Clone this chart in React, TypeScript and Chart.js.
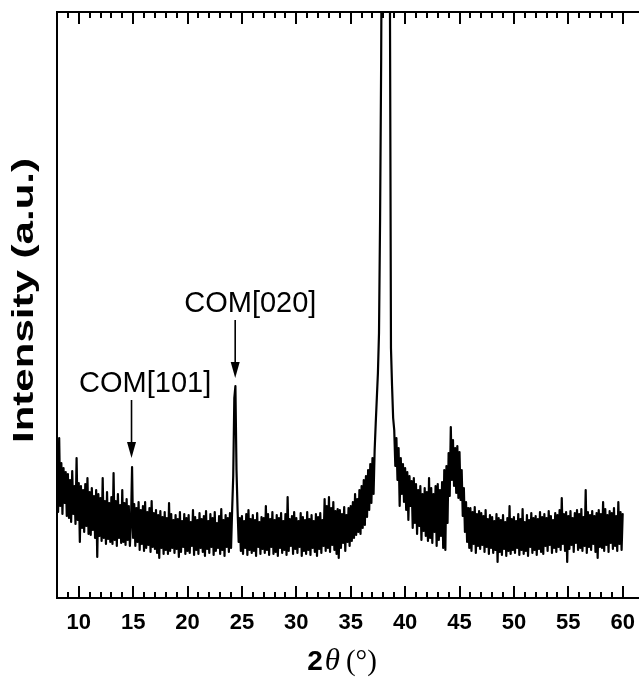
import React, { useEffect, useRef } from "react";
import { Chart, registerables } from "chart.js";

Chart.register(...registerables);

// ---- data -------------------------------------------------------------
const ANGLE_START = 8; // first 2θ sample (°)
const ANGLE_STEP = 0.1; // sampling step (°)
const X_MIN = 8;
const X_MAX = 61.5;
const Y_MIN = 0;
const Y_MAX = 586;
const X_TICK_LABELS = [10, 15, 20, 25, 30, 35, 40, 45, 50, 55, 60];

// intensity (a.u.), one row per degree, 2θ = 8.0 … 60.0
const intensity: number[] = [
  128, 86, 160, 92, 135, 84, 130, 95, 126, 82, // 8
  124, 80, 118, 76, 127, 84, 112, 74, 140, 78, // 9
  115, 56, 112, 70, 108, 66, 114, 72, 120, 64, // 10
  106, 63, 110, 68, 102, 60, 108, 41, 104, 62, // 11
  100, 57, 120, 60, 97, 54, 106, 59, 95, 56, // 12
  101, 54, 125, 58, 97, 52, 104, 60, 93, 55, // 13
  108, 56, 95, 53, 99, 58, 92, 52, 74, 131, // 14
  60, 94, 52, 90, 56, 96, 48, 88, 54, 92, // 15
  47, 96, 50, 86, 53, 90, 46, 97, 51, 85, // 16
  49, 88, 45, 83, 40, 87, 50, 81, 44, 86, // 17
  48, 80, 44, 95, 47, 84, 50, 78, 45, 83, // 18
  49, 79, 41, 86, 46, 77, 51, 84, 44, 80, // 19
  47, 83, 45, 76, 52, 88, 43, 81, 48, 78, // 20
  44, 85, 50, 79, 46, 82, 42, 87, 49, 77, // 21
  45, 84, 51, 80, 43, 86, 47, 75, 50, 82, // 22
  44, 89, 48, 78, 42, 83, 51, 80, 46, 85, // 23
  50, 88, 122, 200, 212, 128, 88, 56, 80, 47, // 24
  82, 44, 77, 50, 84, 43, 88, 48, 79, 45, // 25
  83, 47, 78, 42, 85, 51, 76, 44, 81, 49, // 26
  80, 45, 92, 48, 84, 43, 79, 51, 86, 44, // 27
  78, 46, 83, 42, 80, 50, 85, 45, 77, 48, // 28
  84, 43, 101, 47, 79, 52, 82, 44, 86, 49, // 29
  80, 45, 77, 51, 85, 42, 81, 47, 78, 44, // 30
  86, 48, 79, 43, 83, 50, 77, 46, 84, 42, // 31
  81, 49, 85, 45, 78, 52, 99, 47, 92, 50, // 32
  101, 46, 90, 53, 96, 48, 87, 44, 89, 40, // 33
  88, 50, 84, 55, 91, 47, 83, 56, 90, 52, // 34
  92, 57, 96, 60, 104, 63, 99, 66, 108, 64, // 35
  112, 70, 118, 73, 122, 81, 128, 88, 134, 95, // 36
  140, 104, 148, 175, 200, 225, 265, 380, 540, 800, // 37
  1300, 2000, 2600, 2900, 2500, 1600, 620, 250, 212, 180, // 38
  168, 132, 160, 118, 150, 92, 140, 104, 134, 96, // 39
  130, 88, 126, 78, 122, 92, 117, 70, 120, 75, // 40
  114, 64, 108, 72, 112, 58, 104, 67, 110, 62, // 41
  106, 57, 120, 60, 110, 55, 104, 66, 112, 52, // 42
  114, 58, 108, 62, 116, 50, 128, 48, 132, 75, // 43
  145, 102, 171, 118, 158, 112, 150, 105, 152, 100, // 44
  146, 98, 128, 82, 110, 66, 96, 56, 90, 50, // 45
  90, 47, 86, 54, 91, 45, 84, 52, 87, 49, // 46
  85, 53, 82, 46, 88, 51, 79, 44, 83, 50, // 47
  81, 45, 77, 48, 84, 36, 80, 46, 78, 43, // 48
  83, 49, 76, 42, 80, 47, 92, 44, 79, 48, // 49
  81, 45, 77, 50, 84, 43, 79, 48, 89, 44, // 50
  76, 47, 83, 42, 78, 51, 85, 45, 80, 48, // 51
  82, 43, 79, 49, 86, 46, 81, 44, 84, 52, // 52
  80, 47, 87, 53, 82, 45, 78, 50, 85, 46, // 53
  83, 51, 88, 48, 100, 54, 84, 47, 86, 36, // 54
  82, 49, 87, 53, 80, 46, 85, 55, 88, 48, // 55
  84, 50, 89, 47, 81, 52, 108, 45, 86, 51, // 56
  83, 48, 87, 54, 82, 46, 85, 40, 88, 51, // 57
  84, 50, 96, 47, 89, 53, 83, 46, 87, 55, // 58
  85, 49, 90, 52, 82, 47, 96, 54, 86, 48, // 59
  84, // 60
];

// peak annotations
const peakLabels = ["COM[101]", "COM[020]"];
const peakAngles = [14.85, 24.38]; // arrow position (2θ)
const arrowTail = [198, 278]; // arrow start (a.u.)
const arrowTip = [140, 220]; // arrow tip (a.u.)
const labelAngles = [16.1, 25.77]; // label centre (2θ)
const labelBaseline = [206, 286]; // label baseline (a.u.)

// ---- drawing ----------------------------------------------------------
const SANS = '"Liberation Sans", Arial, Helvetica, sans-serif';
const SERIF = '"Liberation Serif", "Times New Roman", serif';

const decorPlugin = {
  id: "decor",
  afterDatasetsDraw(chart: any) {
    const { ctx, chartArea: a, scales } = chart;
    const xs = scales.x;
    const ys = scales.y;
    ctx.save();
    ctx.strokeStyle = "#000";
    ctx.fillStyle = "#000";

    // inward tick marks on bottom and top axes
    ctx.lineWidth = 2;
    ctx.beginPath();
    for (const t of xs.ticks) {
      const v = t.value;
      if (Math.abs(v - Math.round(v)) > 1e-6) continue;
      const px = Math.round(xs.getPixelForValue(v));
      const len = Math.round(v) % 5 === 0 ? 12 : 6;
      ctx.moveTo(px, a.bottom);
      ctx.lineTo(px, a.bottom - len);
      ctx.moveTo(px, a.top);
      ctx.lineTo(px, a.top + len);
    }
    ctx.stroke();

    // frame (left, top, bottom)
    ctx.beginPath();
    ctx.moveTo(a.right + 2, a.top);
    ctx.lineTo(a.left, a.top);
    ctx.lineTo(a.left, a.bottom);
    ctx.lineTo(a.right + 2, a.bottom);
    ctx.stroke();

    // arrows + labels
    for (let i = 0; i < peakLabels.length; i++) {
      const px = xs.getPixelForValue(peakAngles[i]);
      const yT = ys.getPixelForValue(arrowTail[i]);
      const yH = ys.getPixelForValue(arrowTip[i]);
      const head = 16;
      ctx.lineWidth = 1.6;
      ctx.beginPath();
      ctx.moveTo(px, yT);
      ctx.lineTo(px, yH - head + 2);
      ctx.stroke();
      ctx.beginPath();
      ctx.moveTo(px - 4.5, yH - head);
      ctx.lineTo(px + 4.5, yH - head);
      ctx.lineTo(px, yH);
      ctx.closePath();
      ctx.fill();

      ctx.font = `29px ${SANS}`;
      ctx.textAlign = "center";
      ctx.textBaseline = "alphabetic";
      ctx.fillText(
        peakLabels[i],
        xs.getPixelForValue(labelAngles[i]),
        ys.getPixelForValue(labelBaseline[i])
      );
    }
    ctx.restore();
  },
  afterDraw(chart: any) {
    const { ctx } = chart;
    ctx.save();
    ctx.fillStyle = "#000";
    ctx.textBaseline = "alphabetic";
    ctx.textAlign = "left";

    // x-axis title: 2θ(°)
    const parts = [
      { t: "2", f: `bold 28px ${SANS}`, gap: 2 },
      { t: "\u03B8", f: `italic 31px ${SERIF}`, gap: 6 },
      { t: "(\u00B0)", f: `29px ${SERIF}`, gap: 0 },
    ];
    let total = 0;
    const widths = parts.map((p) => {
      ctx.font = p.f;
      const w = ctx.measureText(p.t).width;
      total += w + p.gap;
      return w;
    });
    let x = 342 - total / 2;
    const baseY = 670;
    parts.forEach((p, i) => {
      ctx.font = p.f;
      ctx.fillText(p.t, x, baseY);
      x += widths[i] + p.gap;
    });

    // y-axis title (rotated)
    const yt = "Intensity (a.u.)";
    ctx.font = `bold 29px ${SANS}`;
    const w = ctx.measureText(yt).width;
    ctx.translate(33, 300.5);
    ctx.rotate(-Math.PI / 2);
    ctx.scale(285 / w, 1);
    ctx.textAlign = "center";
    ctx.fillText(yt, 0, 0);
    ctx.restore();
  },
};

export default function App() {
  const canvasRef = useRef<HTMLCanvasElement | null>(null);

  useEffect(() => {
    const canvas = canvasRef.current;
    if (!canvas) return;
    const points = intensity.map((y, i) => ({
      x: +(ANGLE_START + i * ANGLE_STEP).toFixed(2),
      y,
    }));
    const chart = new Chart(canvas, {
      type: "line",
      data: {
        datasets: [
          {
            data: points,
            borderColor: "#000",
            borderWidth: 2.2,
            borderJoinStyle: "round",
            borderCapStyle: "round",
            pointRadius: 0,
            tension: 0,
            fill: false,
          },
        ],
      },
      options: {
        responsive: false,
        animation: false,
        devicePixelRatio: 1,
        parsing: false as any,
        layout: { padding: { left: 57, top: 12, right: 0, bottom: 0 } },
        plugins: {
          legend: { display: false },
          tooltip: { enabled: false },
          title: { display: false },
        },
        scales: {
          x: {
            type: "linear",
            min: X_MIN,
            max: X_MAX,
            grid: { display: false, drawTicks: false },
            border: { display: false },
            ticks: {
              stepSize: 1,
              autoSkip: false,
              maxRotation: 0,
              padding: 12,
              color: "#000",
              font: { family: SANS, size: 22, weight: "bold" },
              callback: (v: any) =>
                X_TICK_LABELS.includes(Number(v)) ? String(v) : "",
            },
            afterFit: (scale: any) => {
              scale.height = 80;
              scale.paddingLeft = 0;
              scale.paddingRight = 0;
            },
          },
          y: {
            type: "linear",
            display: false,
            min: Y_MIN,
            max: Y_MAX,
          },
        },
      },
      plugins: [decorPlugin],
    } as any);
    return () => chart.destroy();
  }, []);

  return (
    <div
      style={{
        position: "fixed",
        left: 0,
        top: 0,
        width: 639,
        height: 678,
        background: "#fff",
      }}
    >
      <canvas
        ref={canvasRef}
        width={639}
        height={678}
        style={{ display: "block", width: 639, height: 678 }}
      />
    </div>
  );
}
